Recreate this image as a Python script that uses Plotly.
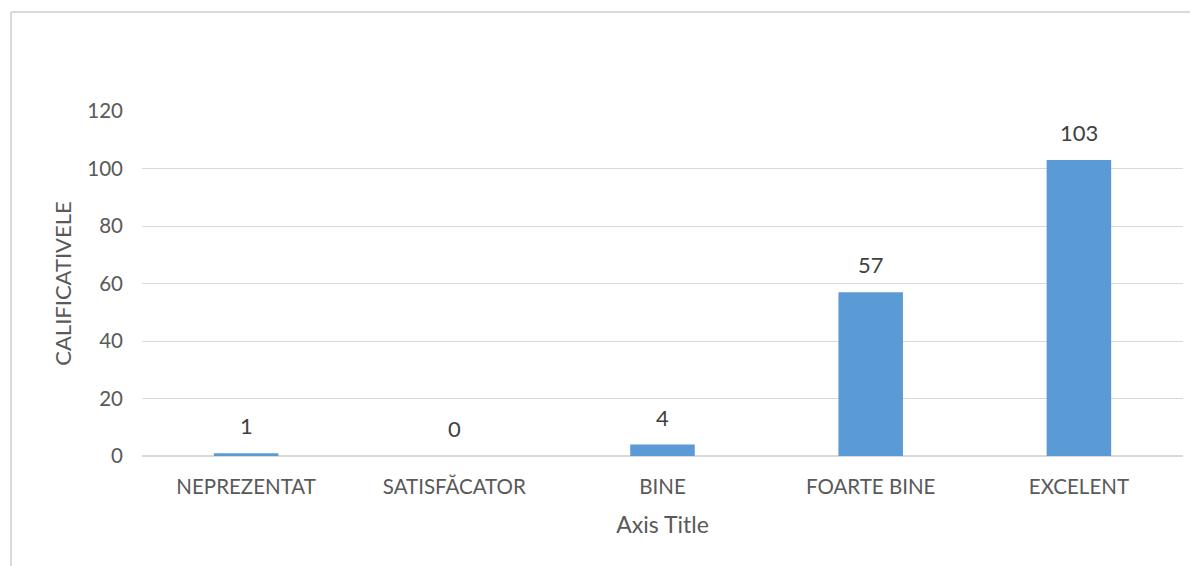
import plotly.graph_objects as go

categories = ["NEPREZENTAT", "SATISFĂCATOR", "BINE", "FOARTE BINE", "EXCELENT"]
values = [1, 0, 4, 57, 103]
y_ticks = [0, 20, 40, 60, 80, 100, 120]

FONT = "Lato"
fig = go.Figure()
fig.add_trace(go.Bar(
    x=categories, y=values,
    marker=dict(color="#5b9bd5", line=dict(width=0)),
    cliponaxis=False,
))

for c, v in zip(categories, values):
    fig.add_annotation(x=c, y=v, text=str(v), showarrow=False,
                       yanchor="bottom", yshift=12,
                       font=dict(family=FONT, size=22, color="#404040"))

# page body has an 8px margin; figure sized to fit the window
W, H = 1190, 558
L, R, T, B = 134, 15, 103, 110
pw = W - L - R
ph = H - T - B

fig.update_layout(
    width=W, height=H,
    margin=dict(l=L, r=R, t=T, b=B),
    paper_bgcolor="white", plot_bgcolor="white",
    bargap=0.69,
    showlegend=False,
    font=dict(family=FONT, color="#595959", size=20),
    xaxis=dict(
        showgrid=False, showline=False, zeroline=False, ticks="",
        tickfont=dict(size=20.5, color="#595959"),
        ticklabelstandoff=16,
        title=dict(text="Axis Title", font=dict(size=23, color="#595959"), standoff=20),
    ),
    yaxis=dict(
        range=[0, 120], tickvals=y_ticks,
        showgrid=True, gridcolor="#d9d9d9", gridwidth=1,
        zeroline=True, zerolinecolor="#d9d9d9", zerolinewidth=1.5,
        showline=False, ticks="",
        tickfont=dict(size=20.5, color="#595959"),
        ticklabelstandoff=18,
        title=dict(text="CALIFICATIVELE", font=dict(size=22, color="#595959"), standoff=9),
    ),
)

# chart-area border (top and left visible)
x0 = (3 - L) / pw
y0 = 1 + (T - 4) / ph
fig.add_shape(type="line", xref="paper", yref="paper", x0=x0, x1=(W + 10 - L) / pw, y0=y0, y1=y0,
              line=dict(color="#d9d9d9", width=2))
fig.add_shape(type="line", xref="paper", yref="paper", x0=x0, x1=x0, y0=y0, y1=-(B + 10) / ph,
              line=dict(color="#d9d9d9", width=2))

fig.write_html("out.html")
